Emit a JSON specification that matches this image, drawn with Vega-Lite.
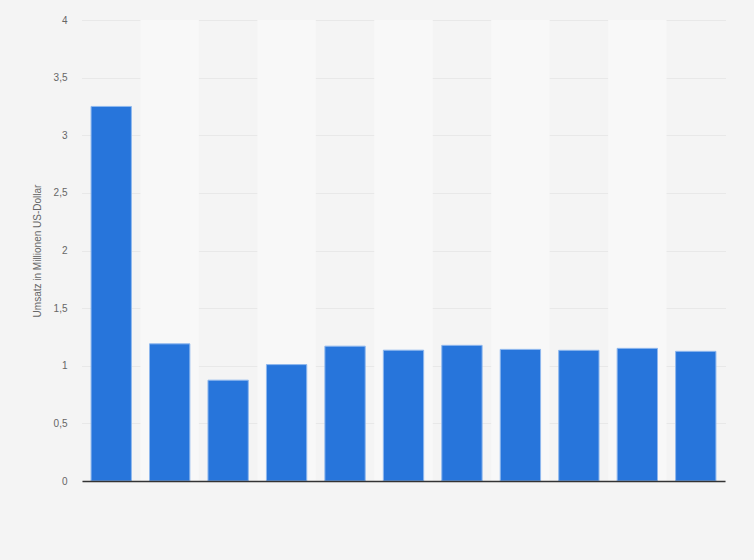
{
  "$schema": "https://vega.github.io/schema/vega-lite/v6.json",
  "autosize": "none",
  "width": 643,
  "height": 461,
  "padding": {"left": 82, "top": 20, "right": 29, "bottom": 79},
  "background": "#f4f4f4",
  "config": {"view": {"stroke": null}},
  "datasets": {
    "bars": [
      {"k": "1", "umsatz": 3.25},
      {"k": "2", "umsatz": 1.19},
      {"k": "3", "umsatz": 0.875},
      {"k": "4", "umsatz": 1.01},
      {"k": "5", "umsatz": 1.17},
      {"k": "6", "umsatz": 1.135},
      {"k": "7", "umsatz": 1.177},
      {"k": "8", "umsatz": 1.142},
      {"k": "9", "umsatz": 1.134},
      {"k": "10", "umsatz": 1.151},
      {"k": "11", "umsatz": 1.125}
    ],
    "shade": [
      {"k": "2"}, {"k": "4"}, {"k": "6"}, {"k": "8"}, {"k": "10"}
    ]
  },
  "layer": [
    {
      "data": {"name": "shade"},
      "mark": {"type": "rect", "color": "#f8f8f8"},
      "encoding": {
        "x": {"field": "k", "type": "ordinal", "sort": ["1","2","3","4","5","6","7","8","9","10","11"], "scale": {"paddingInner": 0, "paddingOuter": 0}, "axis": {"title": null, "labels": false, "ticks": false, "domain": true, "domainColor": "#333333", "domainWidth": 1.5, "grid": false}},
        "y": {"datum": 4, "type": "quantitative"},
        "y2": {"datum": 0}
      }
    },
    {
      "data": {"name": "bars"},
      "mark": {"type": "bar", "color": "#2775db", "stroke": "#8fb8ee", "strokeWidth": 1, "width": {"band": 0.69}},
      "encoding": {
        "x": {"field": "k", "type": "ordinal", "sort": ["1","2","3","4","5","6","7","8","9","10","11"]},
        "y": {
          "field": "umsatz", "type": "quantitative",
          "scale": {"domain": [0, 4], "nice": false},
          "axis": {
            "title": "Umsatz in Millionen US-Dollar",
            "titleFont": "Liberation Sans", "titleFontSize": 10, "titleFontWeight": "normal", "titleColor": "#666666", "titlePadding": 11,
            "values": [0, 0.5, 1, 1.5, 2, 2.5, 3, 3.5, 4],
            "labelExpr": "replace(format(datum.value, '.1~f'), '.', ',')",
            "labelFont": "Liberation Sans", "labelFontSize": 10, "labelColor": "#666666", "labelPadding": 15,
            "ticks": false, "domain": false,
            "grid": true, "gridColor": "#dcdcdc", "gridDash": [1, 1], "gridWidth": 1
          }
        }
      }
    }
  ],
  "resolve": {"scale": {"x": "shared", "y": "shared"}}
}
